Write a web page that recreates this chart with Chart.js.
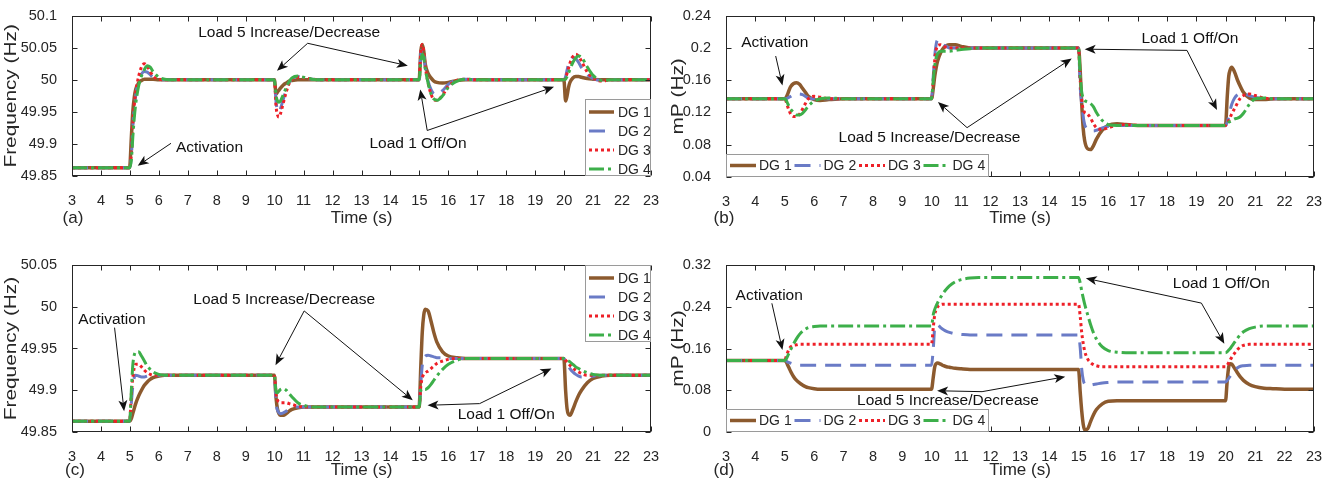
<!DOCTYPE html>
<html><head><meta charset="utf-8">
<script src="https://cdn.jsdelivr.net/npm/chart.js@4.4.1/dist/chart.umd.min.js"></script>
<style>
html,body{margin:0;padding:0;background:#fff;}
#wrap{position:relative;width:1338px;height:485px;overflow:hidden;background:#fff;}
canvas{position:absolute;}
</style></head><body>
<div id="wrap">
<canvas id="ca" width="668" height="242" style="left:0;top:0;width:668px;height:242px"></canvas>
<canvas id="cb" width="670" height="242" style="left:668px;top:0;width:670px;height:242px"></canvas>
<canvas id="cc" width="668" height="243" style="left:0;top:242px;width:668px;height:243px"></canvas>
<canvas id="cd" width="670" height="243" style="left:668px;top:242px;width:670px;height:243px"></canvas>
</div>
<script>
// ---------- data ----------
const SERIES = ['DG 1', 'DG 2', 'DG 3', 'DG 4'];
const TIME = [3, 4.99, 5.05, 5.1, 5.15, 5.2, 5.3, 5.4, 5.5, 5.6, 5.7, 5.8, 6.0, 6.2, 6.5, 7,
  9.99, 10.05, 10.1, 10.15, 10.2, 10.3, 10.4, 10.5, 10.6, 10.8, 11.0, 11.3, 11.6, 12,
  14.99, 15.05, 15.1, 15.15, 15.2, 15.3, 15.4, 15.5, 15.6, 15.8, 16.0, 16.3, 16.6, 17,
  19.99, 20.05, 20.1, 20.15, 20.2, 20.3, 20.4, 20.5, 20.6, 20.8, 21.0, 21.3, 21.6, 22, 23];
const X_TICKS = [3,4,5,6,7,8,9,10,11,12,13,14,15,16,17,18,19,20,21,22,23];
const Y_TICKS_A = [49.85, 49.9, 49.95, 50, 50.05, 50.1];
const Y_TICKS_B = [0.04, 0.08, 0.12, 0.16, 0.2, 0.24];
const Y_TICKS_C = [49.85, 49.9, 49.95, 50, 50.05];
const Y_TICKS_D = [0, 0.08, 0.16, 0.24, 0.32];

// (a) frequency
const A_DG1 = [49.863,49.863,49.91,49.95,49.972,49.985,49.995,49.999,50.001,50.001,50.001,50.001,50.0,50.0,50.0,50.0,
  50.0,49.978,49.981,49.984,49.987,49.992,49.995,49.998,49.999,50.0,50.0,50.0,50.0,50.0,
  50.0,50.045,50.055,50.045,50.025,50.01,50.003,49.998,49.996,49.995,49.996,49.999,50.0,50.0,
  50.0,49.967,49.975,49.988,49.996,50.003,50.005,50.005,50.004,50.002,50.001,50.0,50.0,50.0,50.0];
const A_DG2 = [49.863,49.863,49.88,49.925,49.955,49.975,49.998,50.009,50.013,50.012,50.008,50.004,50.001,50.0,50.0,50.0,
  50.0,49.965,49.952,49.95,49.955,49.97,49.985,49.996,50.002,50.005,50.003,50.001,50.0,50.0,
  50.0,50.04,50.05,50.04,50.02,49.998,49.985,49.978,49.977,49.983,49.993,50.0,50.001,50.0,
  50.0,50.005,50.015,50.025,50.031,50.035,50.033,50.027,50.019,50.008,50.002,49.999,50.0,50.0,50.0];
const A_DG3 = [49.863,49.863,49.885,49.93,49.96,49.98,50.005,50.02,50.025,50.021,50.013,50.006,50.001,50.0,50.0,50.0,
  50.0,49.958,49.945,49.942,49.947,49.964,49.981,49.994,50.001,50.004,50.003,50.001,50.0,50.0,
  50.0,50.045,50.055,50.045,50.022,49.995,49.978,49.969,49.968,49.976,49.99,49.999,50.001,50.0,
  50.0,50.003,50.01,50.018,50.026,50.036,50.04,50.037,50.029,50.012,50.003,49.998,50.0,50.0,50.0];
const A_DG4 = [49.863,49.863,49.875,49.91,49.94,49.962,49.99,50.006,50.016,50.022,50.02,50.013,50.004,50.001,50.0,50.0,
  50.0,49.975,49.967,49.965,49.967,49.977,49.988,49.997,50.003,50.006,50.004,50.001,50.0,50.0,
  50.0,50.03,50.04,50.035,50.018,49.995,49.978,49.97,49.968,49.975,49.988,49.998,50.001,50.0,
  50.0,50.001,50.005,50.01,50.016,50.027,50.034,50.037,50.035,50.02,50.007,49.999,50.0,50.0,50.0];

// (b) mP
const B_DG1 = [0.137,0.137,0.139,0.143,0.148,0.152,0.156,0.157,0.155,0.15,0.145,0.14,0.136,0.135,0.136,0.137,
  0.137,0.15,0.165,0.176,0.184,0.194,0.2,0.203,0.204,0.204,0.202,0.2,0.2,0.2,
  0.2,0.17,0.13,0.1,0.085,0.075,0.074,0.079,0.087,0.098,0.104,0.106,0.105,0.104,
  0.104,0.14,0.165,0.173,0.176,0.17,0.16,0.152,0.145,0.138,0.136,0.136,0.137,0.137,0.137];
const B_DG2 = [0.137,0.137,0.137,0.138,0.139,0.14,0.142,0.143,0.143,0.142,0.14,0.138,0.137,0.137,0.137,0.137,
  0.137,0.165,0.19,0.205,0.21,0.208,0.204,0.202,0.2,0.2,0.2,0.2,0.2,0.2,
  0.2,0.15,0.13,0.115,0.105,0.099,0.097,0.097,0.098,0.101,0.103,0.104,0.104,0.104,
  0.104,0.108,0.115,0.123,0.13,0.138,0.142,0.143,0.143,0.141,0.139,0.137,0.137,0.137,0.137];
const B_DG3 = [0.137,0.137,0.133,0.127,0.122,0.118,0.115,0.115,0.118,0.124,0.131,0.137,0.14,0.139,0.137,0.137,
  0.137,0.16,0.185,0.198,0.203,0.204,0.202,0.201,0.2,0.2,0.2,0.2,0.2,0.2,
  0.2,0.16,0.135,0.124,0.12,0.118,0.113,0.106,0.101,0.099,0.101,0.104,0.105,0.104,
  0.104,0.106,0.11,0.114,0.118,0.125,0.132,0.138,0.141,0.143,0.141,0.138,0.137,0.137,0.137];
const B_DG4 = [0.137,0.137,0.135,0.131,0.127,0.124,0.12,0.117,0.117,0.119,0.123,0.128,0.134,0.137,0.138,0.137,
  0.137,0.16,0.178,0.188,0.193,0.196,0.196,0.196,0.196,0.197,0.198,0.199,0.2,0.2,
  0.2,0.165,0.145,0.138,0.135,0.133,0.131,0.127,0.12,0.11,0.105,0.104,0.104,0.104,
  0.104,0.106,0.108,0.109,0.11,0.112,0.113,0.115,0.119,0.13,0.137,0.138,0.137,0.137,0.137];

// (c) frequency
const C_DG1 = [49.863,49.863,49.866,49.872,49.878,49.884,49.893,49.9,49.906,49.91,49.913,49.915,49.917,49.918,49.918,49.918,
  49.918,49.89,49.877,49.872,49.87,49.87,49.872,49.875,49.877,49.879,49.88,49.88,49.88,49.88,
  49.88,49.93,49.97,49.99,49.997,49.995,49.983,49.969,49.958,49.946,49.941,49.939,49.938,49.938,
  49.938,49.9,49.878,49.871,49.87,49.877,49.886,49.894,49.9,49.909,49.914,49.917,49.918,49.918,49.918];
const C_DG2 = [49.863,49.863,49.885,49.905,49.915,49.918,49.917,49.916,49.916,49.917,49.918,49.918,49.918,49.918,49.918,49.918,
  49.918,49.885,49.876,49.873,49.872,49.873,49.875,49.877,49.879,49.88,49.88,49.88,49.88,49.88,
  49.88,49.91,49.93,49.938,49.941,49.942,49.941,49.94,49.939,49.939,49.938,49.938,49.938,49.938,
  49.938,49.935,49.932,49.929,49.926,49.922,49.919,49.917,49.916,49.916,49.917,49.918,49.918,49.918,49.918];
const C_DG3 = [49.863,49.863,49.895,49.915,49.927,49.931,49.931,49.928,49.924,49.921,49.919,49.918,49.918,49.918,49.918,49.918,
  49.918,49.895,49.888,49.886,49.885,49.885,49.885,49.884,49.883,49.881,49.88,49.88,49.88,49.88,
  49.88,49.905,49.915,49.919,49.921,49.923,49.926,49.929,49.932,49.935,49.937,49.938,49.938,49.938,
  49.938,49.936,49.934,49.932,49.93,49.927,49.924,49.922,49.92,49.918,49.918,49.918,49.918,49.918,49.918];
const C_DG4 = [49.863,49.863,49.9,49.93,49.942,49.946,49.946,49.941,49.935,49.929,49.925,49.922,49.919,49.918,49.918,49.918,
  49.918,49.898,49.897,49.899,49.901,49.902,49.9,49.896,49.892,49.885,49.882,49.88,49.88,49.88,
  49.88,49.9,49.902,49.901,49.901,49.903,49.907,49.912,49.917,49.925,49.931,49.936,49.938,49.938,
  49.938,49.937,49.936,49.935,49.934,49.931,49.928,49.926,49.924,49.921,49.919,49.918,49.918,49.918,49.918];

// (d) mP
const D_DG1 = [0.137,0.137,0.134,0.128,0.122,0.116,0.106,0.099,0.094,0.09,0.087,0.085,0.083,0.082,0.082,0.082,
  0.082,0.105,0.125,0.131,0.132,0.13,0.127,0.125,0.124,0.122,0.121,0.12,0.12,0.12,
  0.12,0.075,0.04,0.015,0.004,0.006,0.02,0.033,0.043,0.054,0.059,0.06,0.06,0.06,
  0.06,0.1,0.125,0.131,0.13,0.122,0.113,0.105,0.099,0.091,0.087,0.084,0.083,0.082,0.082];
const D_DG2 = [0.137,0.137,0.136,0.134,0.133,0.132,0.13,0.129,0.128,0.128,0.128,0.128,0.128,0.128,0.128,0.128,
  0.128,0.16,0.2,0.205,0.205,0.2,0.196,0.193,0.191,0.188,0.187,0.186,0.186,0.186,
  0.186,0.16,0.12,0.1,0.092,0.09,0.09,0.091,0.092,0.094,0.095,0.096,0.096,0.096,
  0.096,0.099,0.103,0.107,0.111,0.118,0.123,0.126,0.127,0.128,0.128,0.128,0.128,0.128,0.128];
const D_DG3 = [0.137,0.137,0.145,0.153,0.159,0.163,0.166,0.167,0.168,0.168,0.168,0.168,0.168,0.168,0.168,0.168,
  0.168,0.2,0.225,0.235,0.24,0.244,0.245,0.245,0.245,0.245,0.245,0.245,0.245,0.245,
  0.245,0.22,0.19,0.17,0.155,0.14,0.133,0.129,0.127,0.125,0.125,0.125,0.125,0.125,
  0.125,0.128,0.133,0.138,0.143,0.151,0.158,0.163,0.166,0.168,0.168,0.168,0.168,0.168,0.168];
const D_DG4 = [0.137,0.137,0.14,0.146,0.152,0.158,0.169,0.179,0.187,0.193,0.197,0.2,0.202,0.203,0.203,0.203,
  0.203,0.225,0.235,0.242,0.248,0.258,0.267,0.274,0.28,0.288,0.292,0.295,0.296,0.296,
  0.296,0.285,0.27,0.257,0.245,0.225,0.206,0.19,0.178,0.163,0.156,0.153,0.152,0.152,
  0.152,0.154,0.157,0.16,0.164,0.172,0.18,0.187,0.192,0.198,0.201,0.203,0.203,0.203,0.203];

// annotation texts and arrows (data coordinates)
const ANN_A = {
  texts: [{x:10.5, y:50.074, t:'Load 5 Increase/Decrease'}, {x:7.75, y:49.894, t:'Activation'}, {x:14.95, y:49.901, t:'Load 1 Off/On'}],
  arrows: [[11.14,50.057,10.08,50.014],[11.14,50.057,14.6,50.022],[6.42,49.901,5.27,49.866],[15.27,49.921,15.03,49.985],[15.27,49.921,19.65,49.989]]
};
const ANN_B = {
  texts: [{x:4.66, y:0.2067, t:'Activation'}, {x:9.92, y:0.0888, t:'Load 5 Increase/Decrease'}, {x:18.78, y:0.2117, t:'Load 1 Off/On'}],
  arrows: [[4.69,0.19,4.92,0.1535],[11.2,0.1012,10.21,0.133],[11.2,0.1012,14.76,0.187],[18.68,0.197,15.2,0.1985],[18.68,0.197,19.7,0.123]]
};
const ANN_C = {
  texts: [{x:4.38, y:49.985, t:'Activation'}, {x:10.33, y:50.008, t:'Load 5 Increase/Decrease'}, {x:18.0, y:49.871, t:'Load 1 Off/On'}],
  arrows: [[4.47,49.975,4.8,49.875],[11.02,49.995,10.03,49.93],[11.02,49.995,14.77,49.888],[17.08,49.884,15.28,49.882],[17.08,49.884,19.56,49.926]]
};
const ANN_D = {
  texts: [{x:4.47, y:0.2606, t:'Activation'}, {x:10.55, y:0.06, t:'Load 5 Increase/Decrease'}, {x:19.85, y:0.285, t:'Load 1 Off/On'}],
  arrows: [[4.56,0.2466,4.92,0.1572],[11.71,0.0773,10.18,0.079],[11.71,0.0773,14.54,0.106],[19.17,0.247,15.24,0.2945],[19.17,0.247,19.95,0.169]]
};

// ---------- styles ----------
const FONT = '"Liberation Sans", Arial, Helvetica, sans-serif';
const TXT = '#262626';
const STYLES = [
  {color:'#8C5A2E', width:3.5, dash:[]},
  {color:'#6A7BC6', width:3, dash:[16,9]},
  {color:'#EE2028', width:3, dash:[3,3]},
  {color:'#3DAF4A', width:3, dash:[15,4,3,4]}
];

function drawArrow(ctx, x1, y1, x2, y2) {
  const dx = x2 - x1, dy = y2 - y1, L = Math.hypot(dx, dy);
  const ux = dx / L, uy = dy / L, nx = -uy, ny = ux;
  const hl = 11, hw = 4.5;
  const bx = x2 - ux * hl, by = y2 - uy * hl;
  const notchx = x2 - ux * hl * 0.75, notchy = y2 - uy * hl * 0.75;
  ctx.beginPath(); ctx.moveTo(x1, y1); ctx.lineTo(notchx, notchy); ctx.stroke();
  ctx.beginPath();
  ctx.moveTo(x2, y2);
  ctx.lineTo(bx + nx * hw, by + ny * hw);
  ctx.lineTo(notchx, notchy);
  ctx.lineTo(bx - nx * hw, by - ny * hw);
  ctx.closePath(); ctx.fill();
}

function legendSample(ctx, i, x1, x2, y) {
  const s = STYLES[i];
  ctx.save();
  ctx.strokeStyle = s.color; ctx.lineWidth = s.width; ctx.setLineDash(s.dash);
  ctx.beginPath(); ctx.moveTo(x1, y); ctx.lineTo(x2, y); ctx.stroke();
  ctx.restore();
}

const framePlugin = {
  id: 'frame',
  afterDatasetsDraw(chart, args, o) {
    const {ctx, chartArea: a, scales: {x, y}} = chart;
    ctx.save();
    ctx.strokeStyle = TXT; ctx.lineWidth = 1;
    const L = Math.round(a.left) + 0.5, R = Math.round(a.right) - 0.5, T = Math.round(a.top) + 0.5, B = Math.round(a.bottom) - 0.5;
    ctx.strokeRect(L, T, R - L, B - T);
    ctx.beginPath();
    X_TICKS.forEach(v => {
      const p = Math.round(x.getPixelForValue(v)) + 0.5;
      ctx.moveTo(p, B); ctx.lineTo(p, B - 5);
      ctx.moveTo(p, T); ctx.lineTo(p, T + 5);
    });
    o.yTicks.forEach(v => {
      const p = Math.round(y.getPixelForValue(v)) + 0.5;
      ctx.moveTo(L, p); ctx.lineTo(L + 5, p);
      ctx.moveTo(R, p); ctx.lineTo(R - 5, p);
    });
    ctx.stroke();
    ctx.restore();
  },
  afterDraw(chart, args, o) {
    const {ctx, chartArea: a, scales: {x, y}} = chart;
    ctx.save();
    // legend
    ctx.font = '14px ' + FONT;
    ctx.textBaseline = 'middle'; ctx.textAlign = 'left';
    if (o.legend === 'vertical-bottom' || o.legend === 'vertical-top') {
      const w = 66, h = 77;
      const bx = a.right - w, by = o.legend === 'vertical-bottom' ? a.bottom - h : a.top;
      ctx.fillStyle = '#fff'; ctx.fillRect(bx, by, w, h);
      ctx.strokeStyle = '#9a9a9a'; ctx.lineWidth = 1;
      ctx.strokeRect(Math.round(bx) + 0.5, Math.round(by) + 0.5, w - 1, h - 1);
      SERIES.forEach((s, i) => {
        const ry = by + 13 + i * 19;
        legendSample(ctx, i, bx + 4, bx + 29, ry);
        ctx.fillStyle = TXT; ctx.fillText(s, bx + 33, ry + 1);
      });
    } else {
      const w = 263, h = 23;
      const bx = a.left, by = a.bottom - h;
      ctx.fillStyle = '#fff'; ctx.fillRect(bx, by, w, h);
      ctx.strokeStyle = '#9a9a9a'; ctx.lineWidth = 1;
      ctx.strokeRect(Math.round(bx) + 0.5, Math.round(by) + 0.5, w - 1, h - 1);
      const ry = by + h / 2;
      SERIES.forEach((s, i) => {
        const sx = bx + 4 + i * 64.5;
        legendSample(ctx, i, sx, sx + 26, ry);
        ctx.fillStyle = TXT; ctx.fillText(s, sx + 29, ry + 1);
      });
    }
    // annotations
    ctx.fillStyle = '#111'; ctx.strokeStyle = '#111'; ctx.lineWidth = 1;
    ctx.font = '15.5px ' + FONT; ctx.textAlign = 'center'; ctx.textBaseline = 'middle';
    o.ann.texts.forEach(t => ctx.fillText(t.t, x.getPixelForValue(t.x), y.getPixelForValue(t.y)));
    o.ann.arrows.forEach(r => drawArrow(ctx, x.getPixelForValue(r[0]), y.getPixelForValue(r[1]), x.getPixelForValue(r[2]), y.getPixelForValue(r[3])));
    // titles
    ctx.fillStyle = TXT;
    ctx.font = '17px ' + FONT;
    ctx.textAlign = 'center'; ctx.textBaseline = 'middle';
    ctx.fillText(o.xTitle, (a.left + a.right) / 2, o.xTitleY);
    ctx.fillText(o.tag, o.tagX, o.xTitleY);
    ctx.save();
    ctx.font = '16px ' + FONT;
    ctx.translate(o.yTitleX, (a.top + a.bottom) / 2);
    ctx.rotate(-Math.PI / 2);
    ctx.scale(1.3, 1);
    ctx.fillText(o.yTitle, 0, 0);
    ctx.restore();
    ctx.restore();
  }
};

function makeChart(id, vals, yTicks, cfg) {
  const datasets = vals.map((v, i) => ({
    label: SERIES[i],
    data: TIME.map((t, k) => ({x: t, y: v[k]})),
    borderColor: STYLES[i].color,
    borderWidth: STYLES[i].width,
    borderDash: STYLES[i].dash,
    borderCapStyle: 'butt',
    borderJoinStyle: 'round',
    pointRadius: 0,
    fill: false,
    cubicInterpolationMode: 'monotone',
    order: 4 - i
  }));
  return new Chart(document.getElementById(id), {
    type: 'line',
    data: {datasets},
    options: {
      responsive: false, animation: false, devicePixelRatio: 1,
      layout: {padding: {top: cfg.padTop, right: cfg.padRight, left: 0, bottom: 0}},
      plugins: {
        legend: {display: false}, tooltip: {enabled: false},
        frame: Object.assign({yTicks: yTicks}, cfg)
      },
      scales: {
        x: {
          type: 'linear', min: 3, max: 23,
          grid: {display: false}, border: {display: false},
          afterBuildTicks: s => { s.ticks = X_TICKS.map(v => ({value: v})); },
          afterFit: s => { s.height = cfg.xH; },
          ticks: {autoSkip: false, maxRotation: 0, padding: 8, color: TXT, font: {family: FONT, size: 14.5}}
        },
        y: {
          type: 'linear', min: yTicks[0], max: yTicks[yTicks.length - 1],
          grid: {display: false}, border: {display: false},
          afterBuildTicks: s => { s.ticks = yTicks.map(v => ({value: v})); },
          afterFit: s => { s.width = cfg.yW; },
          ticks: {padding: 7, color: TXT, font: {family: FONT, size: 14.5}, callback: v => String(v)}
        }
      }
    },
    plugins: [framePlugin]
  });
}

makeChart('ca', [A_DG1, A_DG2, A_DG3, A_DG4], Y_TICKS_A, {
  padTop: 13, padRight: 17, yW: 72, xH: 66, legend: 'vertical-bottom', ann: ANN_A,
  xTitle: 'Time (s)', yTitle: 'Frequency (Hz)', tag: '(a)', xTitleY: 218, tagX: 73, yTitleX: 12
});
makeChart('cb', [B_DG1, B_DG2, B_DG3, B_DG4], Y_TICKS_B, {
  padTop: 13, padRight: 24, yW: 58, xH: 65, legend: 'horizontal', ann: ANN_B,
  xTitle: 'Time (s)', yTitle: 'mP (Hz)', tag: '(b)', xTitleY: 218, tagX: 56, yTitleX: 11
});
makeChart('cc', [C_DG1, C_DG2, C_DG3, C_DG4], Y_TICKS_C, {
  padTop: 23, padRight: 17, yW: 72, xH: 53, legend: 'vertical-top', ann: ANN_C,
  xTitle: 'Time (s)', yTitle: 'Frequency (Hz)', tag: '(c)', xTitleY: 228, tagX: 75, yTitleX: 12
});
makeChart('cd', [D_DG1, D_DG2, D_DG3, D_DG4], Y_TICKS_D, {
  padTop: 23, padRight: 24, yW: 58, xH: 53, legend: 'horizontal', ann: ANN_D,
  xTitle: 'Time (s)', yTitle: 'mP (Hz)', tag: '(d)', xTitleY: 228, tagX: 56, yTitleX: 11
});
</script>
</body></html>
